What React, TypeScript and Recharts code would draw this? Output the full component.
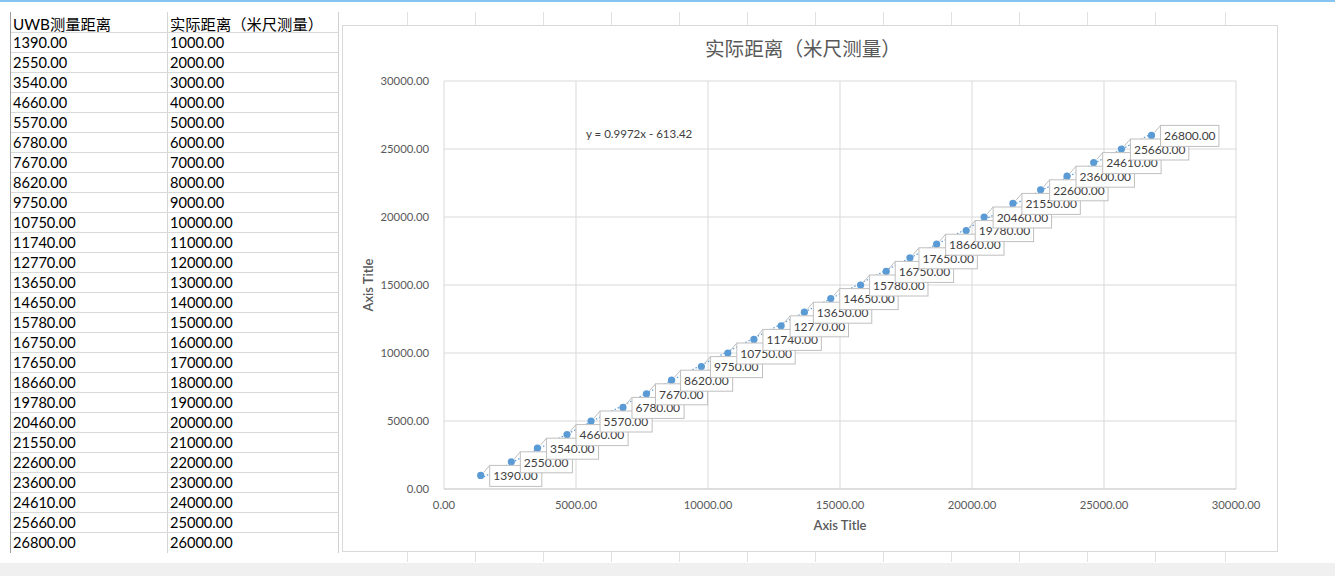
import { CartesianGrid, Scatter, ScatterChart, XAxis, YAxis } from "recharts";

const uwbDistance = [
  1390, 2550, 3540, 4660, 5570, 6780, 7670, 8620, 9750, 10750, 11740, 12770, 13650,
  14650, 15780, 16750, 17650, 18660, 19780, 20460, 21550, 22600, 23600, 24610, 25660, 26800,
];
const actualDistance = [
  1000, 2000, 3000, 4000, 5000, 6000, 7000, 8000, 9000, 10000, 11000, 12000, 13000,
  14000, 15000, 16000, 17000, 18000, 19000, 20000, 21000, 22000, 23000, 24000, 25000, 26000,
];
const headers = ["UWB测量距离", "实际距离（米尺测量）"];
const axisTicks = [0, 5000, 10000, 15000, 20000, 25000, 30000];
// trendline end points (y = 0.9972x - 613.42 over the data range)
const trendX = [1390, 26800];
const trendY = [773, 26112];
const chartTitle = "实际距离（米尺测量）";
const trendLabel = "y = 0.9972x - 613.42";
const axisTitle = "Axis Title";

const FONT = 'Lato, "Noto Sans CJK SC", sans-serif';
const BLUE = "#5b9bd5";
const GRID = "#d9d9d9";
const TEXT = "#595959";

const points = uwbDistance.map((x, i) => ({ x, y: actualDistance[i] }));
const trend = trendX.map((x, i) => ({ x, y: trendY[i] }));

const sheetCols = [407, 475, 543, 611, 679, 747, 815, 883, 951, 1019, 1087, 1155, 1225];

function Dot(props: any) {
  return <circle cx={props.cx} cy={props.cy} r={3.6} fill={BLUE} />;
}

function DataLabel(props: any) {
  const { cx, cy, payload } = props;
  if (cx == null || cy == null) return <g />;
  const text = payload.x.toFixed(2);
  const w = 8 + text.length * 6.3;
  const bx = cx + 9;
  const by = cy - 10;
  return (
    <g>
      <line x1={cx + 3} y1={cy - 3} x2={bx} y2={by} stroke="#bfbfbf" strokeWidth={1} />
      <rect x={bx} y={by} width={w} height={21} fill="#fff" stroke="#bfbfbf" strokeWidth={1} />
      <text x={bx + 3.5} y={cy + 4.8} fontSize={12} fill="#404040" fontFamily={FONT}>
        {text}
      </text>
    </g>
  );
}

function Sheet() {
  return (
    <>
      {sheetCols.map((x) => (
        <div
          key={x}
          style={{ position: "absolute", left: x, top: 12, width: 1, height: 550, background: "#e1e1e1" }}
        />
      ))}
      {/* table */}
      <div style={{ position: "absolute", left: 10, top: 12, width: 1, height: 541, background: "#9e9e9e" }} />
      <div style={{ position: "absolute", left: 167, top: 12, width: 1, height: 541, background: "#d4d4d4" }} />
      <div style={{ position: "absolute", left: 338, top: 12, width: 1, height: 541, background: "#d0d0d0" }} />
      {uwbDistance.map((_, i) => (
        <div
          key={i}
          style={{ position: "absolute", left: 11, top: 32 + i * 20, width: 327, height: 1, background: "#d9d9d9" }}
        />
      ))}
      {headers.map((h, c) => (
        <div
          key={h}
          style={{
            position: "absolute",
            left: c === 0 ? 13 : 170,
            top: 14,
            lineHeight: "20px",
            fontSize: 15.3,
            color: "#000",
            fontFamily: FONT,
            whiteSpace: "nowrap",
          }}
        >
          {h}
        </div>
      ))}
      {uwbDistance.map((v, i) => (
        <div key={"r" + i}>
          <div
            style={{
              position: "absolute",
              left: 13,
              top: 33 + i * 20,
              lineHeight: "20px",
              fontSize: 14.6,
              color: "#000",
              fontFamily: FONT,
            }}
          >
            {v.toFixed(2)}
          </div>
          <div
            style={{
              position: "absolute",
              left: 170,
              top: 33 + i * 20,
              lineHeight: "20px",
              fontSize: 14.6,
              color: "#000",
              fontFamily: FONT,
            }}
          >
            {actualDistance[i].toFixed(2)}
          </div>
        </div>
      ))}
    </>
  );
}

export default function App() {
  return (
    <div
      style={{
        position: "fixed",
        left: 0,
        top: 0,
        width: 1335,
        height: 576,
        background: "#fff",
        overflow: "hidden",
        fontFamily: FONT,
      }}
    >
      <div style={{ position: "absolute", left: 0, top: 0, width: 1335, height: 2, background: "#86c5f2" }} />
      <div style={{ position: "absolute", left: 0, top: 563, width: 1335, height: 13, background: "#f0f0f0" }} />
      <Sheet />

      {/* chart object */}
      <div
        style={{
          position: "absolute",
          left: 342,
          top: 25,
          width: 936,
          height: 527,
          background: "#fff",
          border: `1px solid ${GRID}`,
          boxSizing: "border-box",
        }}
      />
      <div style={{ position: "absolute", left: 342, top: 25 }}>
        <ScatterChart
          width={936}
          height={527}
          margin={{ top: 56, right: 42, left: 42, bottom: 33 }}
          accessibilityLayer={false}
        >
          <CartesianGrid stroke={GRID} strokeWidth={1} />
          <XAxis
            type="number"
            dataKey="x"
            domain={[0, 30000]}
            ticks={axisTicks}
            tickFormatter={(v: number) => v.toFixed(2)}
            tick={{ fontSize: 11.3, fill: TEXT, fontFamily: FONT }}
            tickLine={false}
            tickSize={0}
            tickMargin={12}
            axisLine={{ stroke: "#d0d0d0" }}
            height={30}
            interval={0}
            allowDataOverflow
          />
          <YAxis
            type="number"
            dataKey="y"
            domain={[0, 30000]}
            ticks={axisTicks}
            tickFormatter={(v: number) => v.toFixed(2)}
            tick={{ fontSize: 11.3, fill: TEXT, fontFamily: FONT }}
            tickLine={false}
            tickSize={0}
            tickMargin={15}
            axisLine={false}
            width={60}
            interval={0}
            allowDataOverflow
          />
          <Scatter
            data={trend}
            line={{ stroke: BLUE, strokeWidth: 1.2, strokeDasharray: "1.5 2" }}
            shape={() => <g />}
            isAnimationActive={false}
          />
          <Scatter data={points} shape={Dot} isAnimationActive={false} />
          <Scatter data={points} shape={DataLabel} isAnimationActive={false} />
        </ScatterChart>
      </div>

      <div
        style={{
          position: "absolute",
          left: 553,
          width: 500,
          top: 36,
          textAlign: "center",
          fontSize: 19.6,
          lineHeight: "26px",
          color: TEXT,
          whiteSpace: "nowrap",
        }}
      >
        {chartTitle}
      </div>
      <div
        style={{
          position: "absolute",
          left: 586,
          top: 126,
          fontSize: 11.5,
          lineHeight: "16px",
          color: "#404040",
          whiteSpace: "nowrap",
        }}
      >
        {trendLabel}
      </div>
      <div
        style={{
          position: "absolute",
          left: 740,
          width: 200,
          top: 516,
          textAlign: "center",
          fontSize: 13,
          lineHeight: "18px",
          color: TEXT,
          fontWeight: 600,
        }}
      >
        {axisTitle}
      </div>
      <div
        style={{
          position: "absolute",
          left: 268,
          width: 200,
          top: 276,
          textAlign: "center",
          fontSize: 13,
          lineHeight: "18px",
          color: TEXT,
          fontWeight: 600,
          transform: "rotate(-90deg)",
        }}
      >
        {axisTitle}
      </div>
    </div>
  );
}
